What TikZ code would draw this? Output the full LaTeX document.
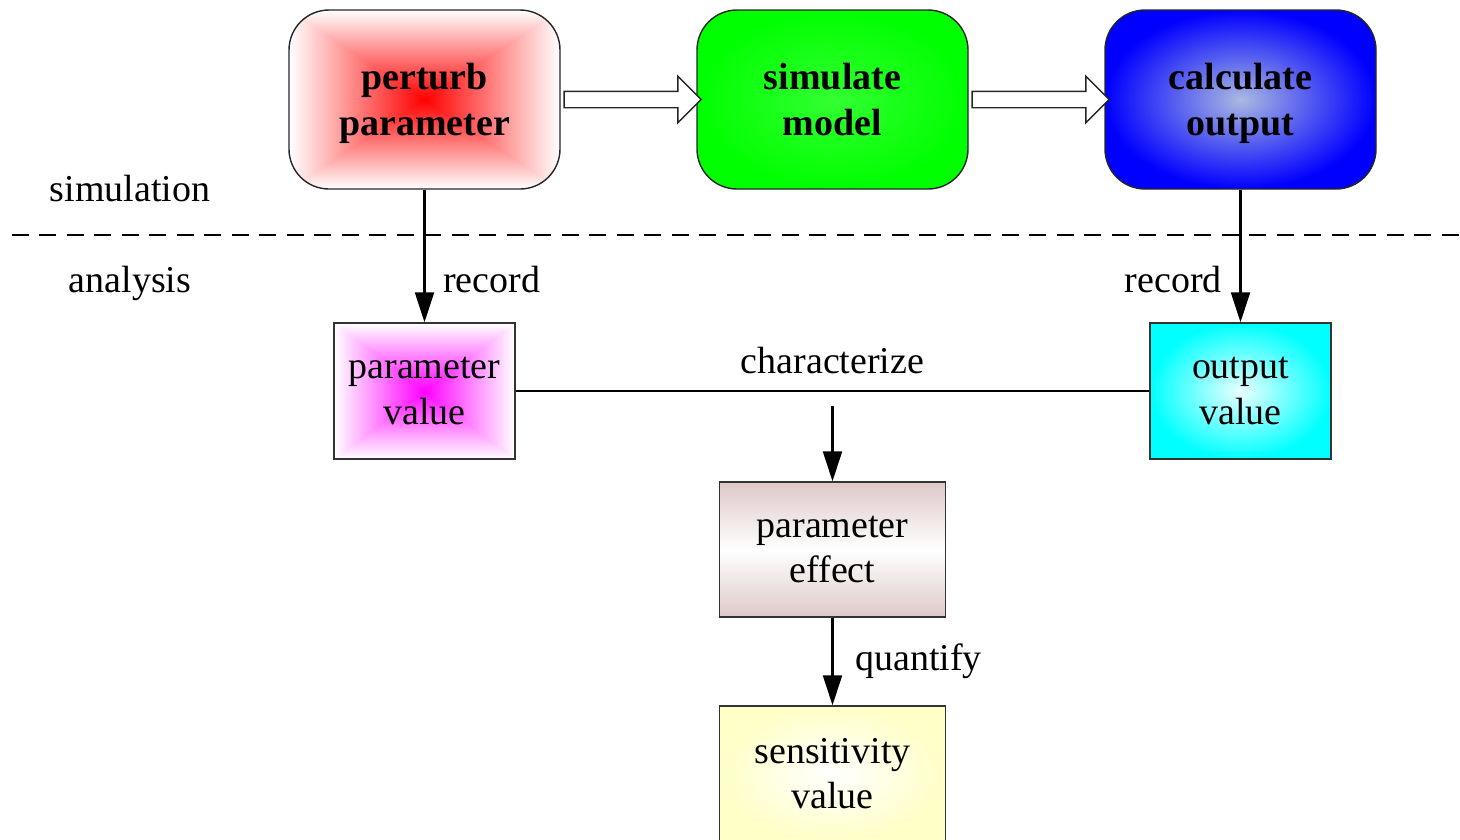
\documentclass[tikz,border=0pt]{standalone}
\usepackage{fontspec}
\setmainfont{Liberation Serif}
\usetikzlibrary{positioning}
\usetikzlibrary{shapes.arrows}
\usetikzlibrary{arrows.meta}
\definecolor{outblue}{RGB}{170,185,225}
\definecolor{effectrose}{RGB}{222,200,200}
\definecolor{sensyellow}{RGB}{255,255,200}
% box-like glow, full colour in the middle, white at the border
\pgfdeclarefunctionalshading{redbox}{\pgfpoint{-50bp}{-50bp}}{\pgfpoint{50bp}{50bp}}{}{
  abs exch abs 2 copy lt {exch} if pop 25 div dup 1 gt {pop 1} if dup 1 3 1 roll}
\pgfdeclarefunctionalshading{magentabox}{\pgfpoint{-50bp}{-50bp}}{\pgfpoint{50bp}{50bp}}{}{
  abs exch abs 2 copy lt {exch} if pop 25 div dup 1 gt {pop 1} if 1 exch 1}
\tikzstyle{stage} = [rectangle, rounded corners=0.4cm, minimum width=2.71cm, minimum height=1.79cm, text centered, align=center, text depth=0pt, draw=black!85, font=\fontsize{10.8}{13}\selectfont\bfseries]
\tikzstyle{quantity} = [rectangle, minimum width=1.81cm, minimum height=1.36cm, text centered, align=center, draw=black!80]
\tikzstyle{result} = [rectangle, minimum width=2.26cm, minimum height=1.35cm, text centered, align=center, draw=black!80]
\tikzstyle{flow} = [single arrow, draw=black!85, fill=white, minimum height=1.37cm, inner sep=0.075cm, single arrow head extend=0.15cm]
\tikzstyle{arrow} = [line width=0.6pt, -{Triangle[length=0.3cm,width=0.19cm]}]

\begin{document}
\begin{tikzpicture}[node distance=4.08cm, every node/.style={font=\fontsize{10.8}{13}\selectfont}]
    \useasboundingbox (0,0) rectangle (14.6,-8.39);

    % simulation side
    \node (perturb) [stage, shading=redbox] at (4.245,-0.995) {perturb\\parameter};
    \node (simulate) [stage, right of=perturb, inner color=green!80!white, outer color=green] {simulate\\model};
    \node (calculate) [stage, right of=simulate, inner color=outblue, outer color=blue] {calculate\\output};

    \path (perturb.east) -- (simulate.west) node[flow, midway] (flowA) {};
    \path (simulate.east) -- (calculate.west) node[flow, midway] (flowB) {};

    % separator
    \node (simlabel) at (1.3,-1.89) {simulation};
    \node (analabel) at (1.3,-2.83) {analysis};
    \coordinate (sepL) at (0.12,-2.35);
    \coordinate (sepR) at (14.6,-2.35);
    \draw [line width=0.6pt, dash pattern=on 0.17cm off 0.105cm] (sepL) -- (sepR);

    % analysis side
    \node (paramval) [quantity, below of=perturb, yshift=1.165cm, shading=magentabox] {parameter\\value};
    \node (outval) [quantity, below of=calculate, yshift=1.165cm, inner color=cyan!8!white, outer color=cyan] {output\\value};
    \node (effect) [result, below of=simulate, yshift=-0.42cm, top color=effectrose, bottom color=effectrose, middle color=white] {parameter\\effect};
    \node (sens) [result, below of=effect, yshift=1.84cm, inner color=white, outer color=sensyellow] {sensitivity\\value};

    \draw [arrow] (perturb) -- (paramval) node[pos=0.68, right=0.06cm] {record};
    \draw [arrow] (calculate) -- (outval) node[pos=0.68, left=0.06cm] {record};
    \draw (paramval) -- (outval) coordinate[midway] (charmid) node[midway, above=0.05cm] {characterize};
    \coordinate (charstart) at ([yshift=-0.15cm]charmid);
    \draw [arrow] (charstart) -- (effect);
    \draw [arrow] (effect) -- (sens) node[midway, right=0.1cm] {quantify};
\end{tikzpicture}
\end{document}
